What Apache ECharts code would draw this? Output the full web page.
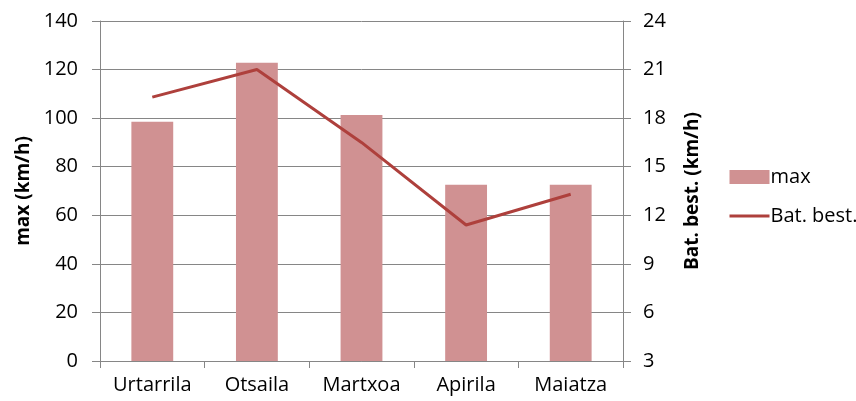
<!DOCTYPE html>
<html><head><meta charset="utf-8">
<script src="https://cdn.jsdelivr.net/npm/echarts@6/dist/echarts.min.js"></script>
<style>html,body{margin:0;padding:0;background:#fff}#c{width:856px;height:401px}</style>
</head><body><div id="c"></div>
<script>
const categories = ['Urtarrila', 'Otsaila', 'Martxoa', 'Apirila', 'Maiatza'];
const maxValues = [98.5, 122.8, 101.3, 72.6, 72.6];
const batBestValues = [19.3, 21.0, 16.5, 11.4, 13.3];
const leftTicks = [0, 140, 20];
const rightTicks = [3, 24, 3];

const FONT = '"Open Sans", sans-serif';
const axisColor = '#868686';
const lineColor = '#AE403C';
const chart = echarts.init(document.getElementById('c'), null, {renderer: 'canvas'});
chart.setOption({
  animation: false,
  textStyle: {fontFamily: FONT},
  grid: {left: 100, right: 233, top: 21, bottom: 40, containLabel: false},
  legend: {
    orient: 'vertical', left: 723, top: 162, itemWidth: 40, itemHeight: 14, itemGap: 19,
    textStyle: {fontFamily: FONT, fontSize: 20, color: '#000', padding: [0, 0, 0, -4]},
    data: [
      {name: 'max', icon: 'rect'},
      {name: 'Bat. best.', itemStyle: {color: 'rgba(0,0,0,0)', borderWidth: 0}, lineStyle: {color: lineColor, width: 3}}
    ]
  },
  xAxis: {
    type: 'category', data: categories,
    axisLine: {lineStyle: {color: axisColor, width: 1}},
    axisTick: {show: true, length: 7, lineStyle: {color: axisColor}},
    axisLabel: {fontFamily: FONT, fontSize: 20, color: '#000', margin: 14}
  },
  yAxis: [
    {
      type: 'value', min: leftTicks[0], max: leftTicks[1], interval: leftTicks[2],
      name: 'max (km/h)', nameLocation: 'middle', nameGap: 66, nameRotate: 90,
      nameTextStyle: {fontFamily: FONT, fontSize: 19, fontWeight: 'bold', color: '#000'},
      axisLine: {show: true, lineStyle: {color: axisColor}},
      axisTick: {show: true, length: 8, lineStyle: {color: axisColor}},
      axisLabel: {fontFamily: FONT, fontSize: 20, color: '#000', margin: 22},
      splitLine: {show: true, lineStyle: {color: axisColor, width: 1}}
    },
    {
      type: 'value', min: rightTicks[0], max: rightTicks[1], interval: rightTicks[2],
      position: 'right',
      name: 'Bat. best. (km/h)', nameLocation: 'middle', nameGap: 60, nameRotate: 90,
      nameTextStyle: {fontFamily: FONT, fontSize: 19, fontWeight: 'bold', color: '#000'},
      axisLine: {show: true, lineStyle: {color: axisColor}},
      axisTick: {show: true, length: 8, lineStyle: {color: axisColor}},
      axisLabel: {fontFamily: FONT, fontSize: 20, color: '#000', margin: 20},
      splitLine: {show: false}
    }
  ],
  series: [
    {
      name: 'max', type: 'bar', yAxisIndex: 0, data: maxValues, barWidth: '40%',
      itemStyle: {color: '#D09192'}
    },
    {
      name: 'Bat. best.', type: 'line', yAxisIndex: 1, data: batBestValues,
      symbol: 'none', lineStyle: {color: lineColor, width: 3},
      itemStyle: {color: lineColor}
    }
  ]
});
</script></body></html>
